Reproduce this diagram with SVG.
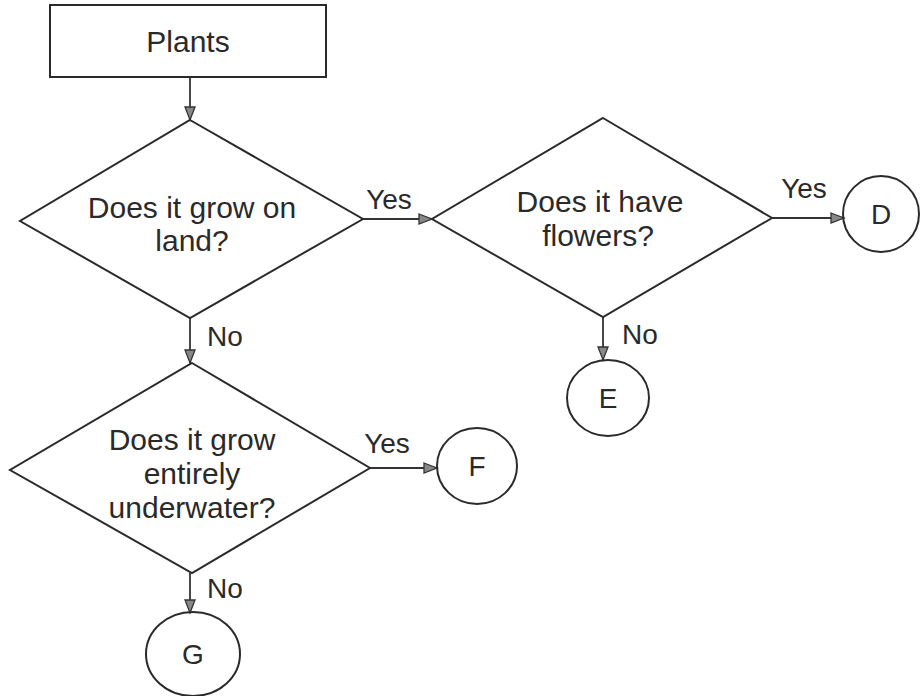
<svg xmlns="http://www.w3.org/2000/svg" width="920" height="696" viewBox="0 0 920 696">
<defs>
<style>
.shape{fill:none;stroke:#2a2a2a;stroke-width:2}
.edge{fill:none;stroke:#333;stroke-width:1.8}
text{font-family:"Liberation Sans",Arial,sans-serif;font-size:30px;fill:#2a2a2a}
.lbl{font-size:28px}
.c{text-anchor:middle}
</style>
<marker id="arr" markerUnits="userSpaceOnUse" markerWidth="16" markerHeight="12" refX="14" refY="6" orient="auto">
<path d="M1,1 L14,6 L1,11 Z" fill="#888" stroke="#333" stroke-width="1.3"/>
</marker>
</defs>
<rect width="920" height="696" fill="#fff"/>
<g id="edges">
<line class="edge" x1="190" y1="77" x2="190" y2="120" marker-end="url(#arr)"/>
<line class="edge" x1="363" y1="219" x2="432" y2="219" marker-end="url(#arr)"/>
<line class="edge" x1="772" y1="218" x2="844" y2="218" marker-end="url(#arr)"/>
<line class="edge" x1="603" y1="317" x2="603" y2="360" marker-end="url(#arr)"/>
<line class="edge" x1="190" y1="318" x2="190" y2="363" marker-end="url(#arr)"/>
<line class="edge" x1="370" y1="468" x2="437" y2="468" marker-end="url(#arr)"/>
<line class="edge" x1="190" y1="573" x2="190" y2="613" marker-end="url(#arr)"/>
<text x="389" y="209" class="c lbl">Yes</text>
<text x="804" y="198" class="c lbl">Yes</text>
<text x="207" y="346" class="lbl">No</text>
<text x="622" y="344" class="lbl">No</text>
<text x="387" y="453" class="c lbl">Yes</text>
<text x="207" y="598" class="lbl">No</text>
</g>
<g id="plants">
<rect class="shape" x="50" y="5" width="276" height="72"/>
<text x="188" y="52" class="c">Plants</text>
</g>
<g id="q-land">
<polygon class="shape" points="190,120 363,219 190,318 20,221"/>
<text x="192" y="218" class="c">Does it grow on</text>
<text x="192" y="251" class="c">land?</text>
</g>
<g id="q-flowers">
<polygon class="shape" points="603,118 772,218 603,317 432,219"/>
<text x="600" y="212" class="c">Does it have</text>
<text x="598" y="246" class="c">flowers?</text>
</g>
<g id="q-underwater">
<polygon class="shape" points="192,363 370,468 192,573 10,470"/>
<text x="192" y="450" class="c">Does it grow</text>
<text x="192" y="484" class="c">entirely</text>
<text x="192" y="518" class="c">underwater?</text>
</g>
<g id="D">
<circle class="shape" cx="881" cy="214" r="38"/>
<text x="881" y="224" class="c lbl">D</text>
</g>
<g id="E">
<ellipse class="shape" cx="608" cy="398" rx="41" ry="38"/>
<text x="608" y="408" class="c lbl">E</text>
</g>
<g id="F">
<ellipse class="shape" cx="477" cy="466" rx="40" ry="38"/>
<text x="477" y="476" class="c lbl">F</text>
</g>
<g id="G">
<ellipse class="shape" cx="193" cy="654" rx="47" ry="42"/>
<text x="193" y="664" class="c lbl">G</text>
</g>
</svg>
